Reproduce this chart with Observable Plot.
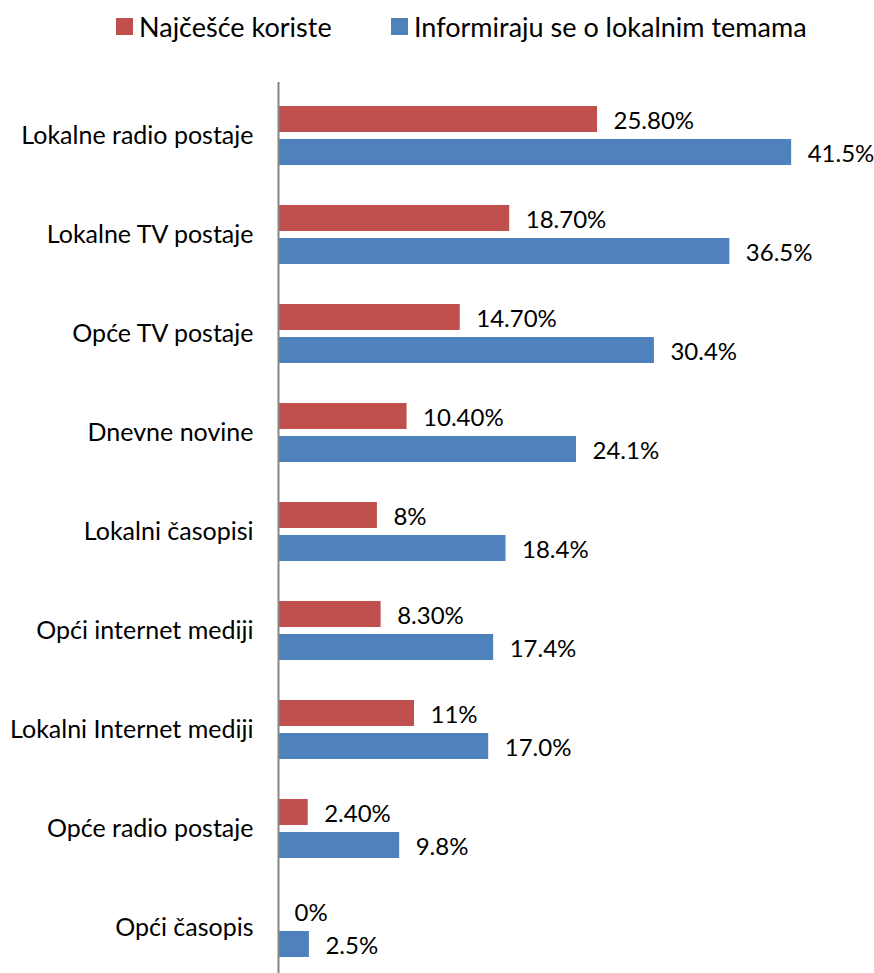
<!DOCTYPE html>
<html>
<head>
<meta charset="utf-8">
<script src="https://cdn.jsdelivr.net/npm/d3@7"></script>
<script src="https://cdn.jsdelivr.net/npm/@observablehq/plot@0.6"></script>
<style>
  html, body { margin: 0; padding: 0; background: #fff; overflow: hidden; }
  #legend { position: relative; height: 50px; font-family: Lato, sans-serif; font-size: 27px; color: #000; }
  .item { position: absolute; top: 10px; display: flex; align-items: center; white-space: nowrap; }
  .sw { width: 17px; height: 17px; margin-right: 6px; }
  #chart svg { display: block; }
</style>
</head>
<body>
<div id="legend"></div>
<div id="chart"></div>
<script>
const categories = ["Lokalne radio postaje", "Lokalne TV postaje", "Opće TV postaje", "Dnevne novine", "Lokalni časopisi", "Opći internet mediji", "Lokalni Internet mediji", "Opće radio postaje", "Opći časopis"];
const seriesNames = ["Najčešće koriste", "Informiraju se o lokalnim temama"];
const seriesColors = ["#C0504D", "#4F81BD"];
const redValues = [25.8, 18.7, 14.7, 10.4, 8, 8.3, 11, 2.4, 0];
const blueValues = [41.5, 36.5, 30.4, 24.1, 18.4, 17.4, 17.0, 9.8, 2.5];
const redLabels = ["25.80%", "18.70%", "14.70%", "10.40%", "8%", "8.30%", "11%", "2.40%", "0%"];
const blueLabels = ["41.5%", "36.5%", "30.4%", "24.1%", "18.4%", "17.4%", "17.0%", "9.8%", "2.5%"];

const red = categories.map((c, i) => ({category: c, value: redValues[i], label: redLabels[i]}));
const blue = categories.map((c, i) => ({category: c, value: blueValues[i], label: blueLabels[i]}));

// legend
const legend = document.getElementById("legend");
const lefts = [116, 391];
seriesNames.forEach((name, i) => {
  const it = document.createElement("div");
  it.className = "item";
  it.style.left = lefts[i] + "px";
  it.innerHTML = `<span class="sw" style="background:${seriesColors[i]}"></span><span>${name}</span>`;
  legend.appendChild(it);
});

const font = "Lato, sans-serif";
const chart = Plot.plot({
  width: 874,
  height: 931,
  marginTop: 32,
  marginBottom: 0,
  marginLeft: 278,
  marginRight: 0,
  style: {fontFamily: font, fontSize: "25px", color: "#000", background: "#fff"},
  x: {domain: [0, 48.2], axis: null},
  y: {domain: categories, paddingInner: 0.4, paddingOuter: 0.2, label: null, tickSize: 0, tickPadding: 25},
  marks: [
    Plot.barX(red, {x: "value", y: "category", fill: seriesColors[0], insetBottom: 33}),
    Plot.barX(blue, {x: "value", y: "category", fill: seriesColors[1], insetTop: 33}),
    Plot.text(red, {x: "value", y: "category", text: "label", textAnchor: "start", dx: 16, dy: -15, fill: "#000", fontSize: 24}),
    Plot.text(blue, {x: "value", y: "category", text: "label", textAnchor: "start", dx: 16, dy: 18, fill: "#000", fontSize: 24}),
    Plot.ruleX([0], {stroke: "#868686", strokeWidth: 2})
  ]
});
document.getElementById("chart").appendChild(chart);
</script>
</body>
</html>
